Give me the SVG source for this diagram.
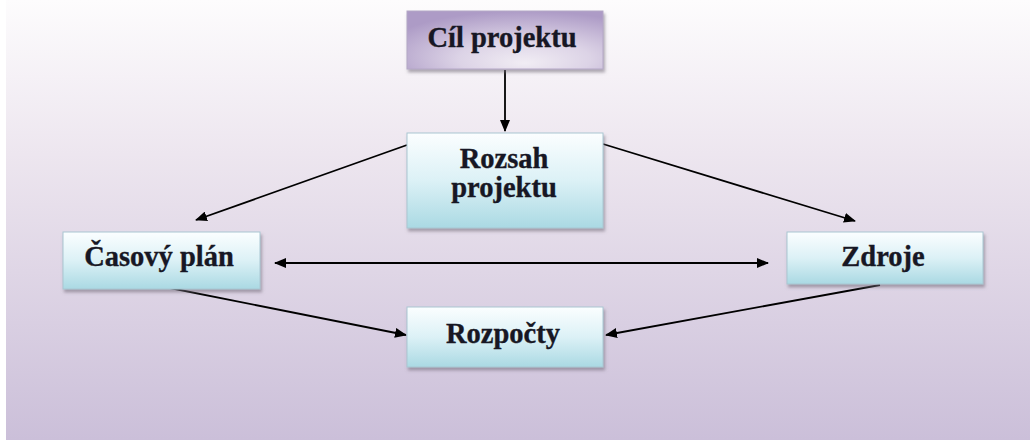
<svg xmlns="http://www.w3.org/2000/svg" width="1030" height="442" viewBox="0 0 1030 442">
  <defs>
    <linearGradient id="bg" x1="0" y1="0" x2="0" y2="1">
      <stop offset="0" stop-color="#fdfcfd"/>
      <stop offset="0.35" stop-color="#ede6ef"/>
      <stop offset="1" stop-color="#cbbfd9"/>
    </linearGradient>
    <linearGradient id="cyan" x1="0" y1="0" x2="0" y2="1">
      <stop offset="0" stop-color="#fbfeff"/>
      <stop offset="0.5" stop-color="#dcf1f6"/>
      <stop offset="1" stop-color="#aad9e3"/>
    </linearGradient>
    <radialGradient id="violet" cx="0.6" cy="0.75" r="0.75" fx="0.6" fy="0.9">
      <stop offset="0" stop-color="#f1edf4"/>
      <stop offset="0.45" stop-color="#dcd3e6"/>
      <stop offset="1" stop-color="#ad9bc6"/>
    </radialGradient>
    <filter id="shadow" x="-10%" y="-10%" width="125%" height="140%">
      <feDropShadow dx="1.5" dy="3" stdDeviation="1.5" flood-color="#6f6a78" flood-opacity="0.55"/>
    </filter>
    <marker id="arrow" viewBox="0 0 12 10" refX="11" refY="5" markerWidth="12" markerHeight="10" markerUnits="userSpaceOnUse" orient="auto-start-reverse">
      <path d="M0,0 L12,5 L0,10 Z" fill="#000"/>
    </marker>
    <style>
      .box { stroke: #a9c6d2; stroke-width: 1; filter: url(#shadow); }
      .cyan { fill: url(#cyan); }
      .violet { fill: url(#violet); stroke: #b4a7c6; }
      .label { font-family: 'Liberation Serif', 'Times New Roman', serif; font-weight: bold; font-size: 28.5px; fill: #171724; stroke: #171724; stroke-width: 0.35; text-anchor: middle; }
      .edge { stroke: #000; stroke-width: 1.8; fill: none; marker-end: url(#arrow); }
    </style>
  </defs>

  <!-- backdrop -->
  <rect x="6" y="0" width="1024" height="440" fill="url(#bg)"/>

  <!-- connectors -->
  <g id="connectors">
    <line class="edge" x1="505" y1="70" x2="505" y2="131"/>
    <line class="edge" x1="407" y1="145" x2="196" y2="220"/>
    <line class="edge" x1="603" y1="144" x2="855" y2="221"/>
    <line class="edge" x1="520" y1="263" x2="275" y2="263"/>
    <line class="edge" x1="520" y1="263" x2="768" y2="263"/>
    <line class="edge" x1="165" y1="287" x2="406" y2="335"/>
    <line class="edge" x1="880" y1="285" x2="606" y2="335"/>
  </g>

  <!-- nodes -->
  <g id="cil-projektu">
    <rect class="box violet" x="407" y="11" width="196" height="58"/>
    <text class="label" x="502" y="47">Cíl projektu</text>
  </g>
  <g id="rozsah-projektu">
    <rect class="box cyan" x="407" y="133" width="196" height="95"/>
    <text class="label" x="504" y="168">Rozsah</text>
    <text class="label" x="504" y="197">projektu</text>
  </g>
  <g id="casovy-plan">
    <rect class="box cyan" x="63" y="232" width="197" height="57"/>
    <text class="label" x="159" y="266">Časový plán</text>
  </g>
  <g id="zdroje">
    <rect class="box cyan" x="787" y="232" width="196" height="52"/>
    <text class="label" x="883" y="266">Zdroje</text>
  </g>
  <g id="rozpocty">
    <rect class="box cyan" x="407" y="307" width="196" height="60"/>
    <text class="label" x="503" y="343">Rozpočty</text>
  </g>
</svg>
